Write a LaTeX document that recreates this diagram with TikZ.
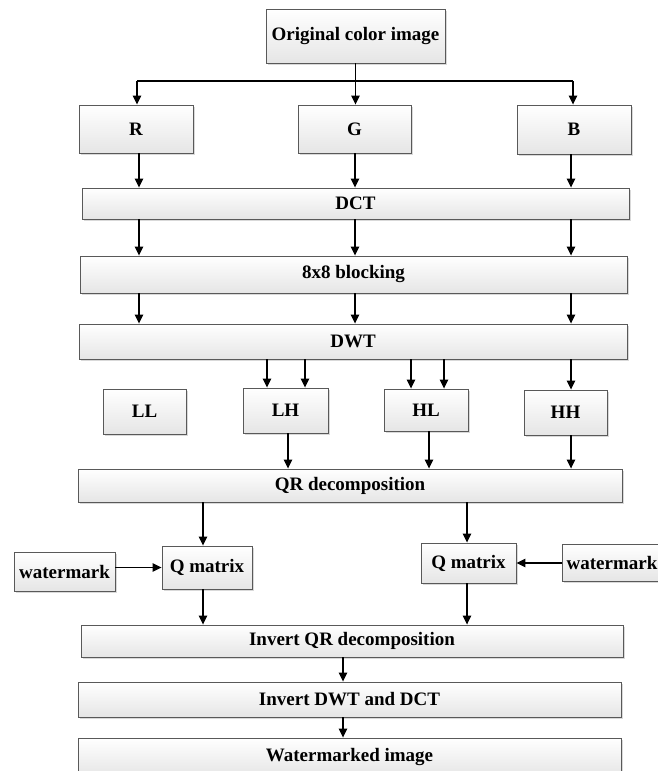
\documentclass[tikz,border=0pt]{standalone}
\usepackage{fontspec}
\setmainfont{Liberation Serif}
\usetikzlibrary{arrows.meta,shadows}
\begin{document}
\begin{tikzpicture}[x=1pt,y=-1pt,
  box/.style={draw=black!65,line width=0.9pt,top color=white,bottom color=black!10,
    drop shadow={shadow xshift=1.6pt,shadow yshift=-1.6pt,fill=black!25,opacity=0.6},
    inner sep=0pt,font=\fontsize{19}{22}\selectfont\bfseries,text=black},
  arr/.style={line width=1.2pt,-{Triangle[length=9pt,width=8.5pt]}},
  ln/.style={line width=1.2pt}]
\useasboundingbox (0,0) rectangle (658,771);
% nodes
\node[box,minimum width=179,minimum height=54] (orig) at (355.5,36) {Original color image};
\node[box,minimum width=114,minimum height=48] (R) at (136,129) {R};
\node[box,minimum width=113,minimum height=48] (G) at (354.5,129) {G};
\node[box,minimum width=114,minimum height=49] (B) at (574,129.5) {B};
\node[box,minimum width=547,minimum height=31] (DCT) at (355.5,203.5) {DCT};
\node[box,minimum width=547,minimum height=37] (blk) at (353.5,274.5) {8x8 blocking};
\node[box,minimum width=548,minimum height=35] (DWT) at (353,341.5) {DWT};
\node[box,minimum width=83,minimum height=45] (LL) at (144.5,411.5) {LL};
\node[box,minimum width=85,minimum height=45] (LH) at (285.5,410.5) {LH};
\node[box,minimum width=84,minimum height=42] (HL) at (426,410) {HL};
\node[box,minimum width=83,minimum height=45] (HH) at (565.5,412.5) {HH};
\node[box,minimum width=544,minimum height=33] (QR) at (350,485.5) {QR decomposition};
\node[box,minimum width=90,minimum height=43] (QmL) at (207,567.5) {Q matrix};
\node[box,minimum width=101,minimum height=39] (wmL) at (64.5,571.5) {watermark};
\node[box,minimum width=95,minimum height=40] (QmR) at (468.5,563) {Q matrix};
\node[box,minimum width=100,minimum height=37] (wmR) at (612,562.5) {watermark};
\node[box,minimum width=542,minimum height=32] (IQR) at (352,641) {Invert QR decomposition};
\node[box,minimum width=543,minimum height=35] (IDWT) at (349.5,699.5) {Invert DWT and DCT};
\node[box,minimum width=543,minimum height=38] (WI) at (349.5,757) {Watermarked image};
% split line
\coordinate (jl) at (137,81);
\coordinate (jr) at (573,81);
\draw[ln] (jl) -- (jr);
\draw[arr] (orig) -- (orig |- G.north);
\draw[arr] (jl) -- (jl |- R.north);
\draw[arr] (jr) -- (jr |- B.north);
% to DCT
\coordinate (c1) at (139,0);
\coordinate (c2) at (355,0);
\coordinate (c3) at (571,0);
\draw[arr] (c1 |- R.south) -- (c1 |- DCT.north);
\draw[arr] (c2 |- G.south) -- (c2 |- DCT.north);
\draw[arr] (c3 |- B.south) -- (c3 |- DCT.north);
% DCT -> blocking
\draw[arr] (c1 |- DCT.south) -- (c1 |- blk.north);
\draw[arr] (c2 |- DCT.south) -- (c2 |- blk.north);
\draw[arr] (c3 |- DCT.south) -- (c3 |- blk.north);
% blocking -> DWT
\draw[arr] (c1 |- blk.south) -- (c1 |- DWT.north);
\draw[arr] (c2 |- blk.south) -- (c2 |- DWT.north);
\draw[arr] (c3 |- blk.south) -- (c3 |- DWT.north);
% DWT -> subbands
\coordinate (d1) at (267,0);
\coordinate (d2) at (305,0);
\coordinate (d3) at (411,0);
\coordinate (d4) at (444,0);
\draw[arr] (d1 |- DWT.south) -- (d1 |- LH.north);
\draw[arr] (d2 |- DWT.south) -- (d2 |- LH.north);
\draw[arr] (d3 |- DWT.south) -- (d3 |- HL.north);
\draw[arr] (d4 |- DWT.south) -- (d4 |- HL.north);
\draw[arr] (c3 |- DWT.south) -- (c3 |- HH.north);
% subbands -> QR
\coordinate (e1) at (288,0);
\coordinate (e2) at (429,0);
\draw[arr] (e1 |- LH.south) -- (e1 |- QR.north);
\draw[arr] (e2 |- HL.south) -- (e2 |- QR.north);
\draw[arr] (c3 |- HH.south) -- (c3 |- QR.north);
% QR -> Q matrices
\coordinate (f1) at (203,0);
\coordinate (f2) at (467,0);
\draw[arr] (f1 |- QR.south) -- (f1 |- QmL.north);
\draw[arr] (f2 |- QR.south) -- (f2 |- QmR.north);
\draw[arr] (wmL.east |- QmL.west) -- (QmL.west);
\draw[arr] (wmR.west |- QmR.east) -- (QmR.east);
% Q matrices -> IQR
\draw[arr] (f1 |- QmL.south) -- (f1 |- IQR.north);
\draw[arr] (f2 |- QmR.south) -- (f2 |- IQR.north);
% bottom chain
\coordinate (g1) at (343,0);
\draw[arr] (g1 |- IQR.south) -- (g1 |- IDWT.north);
\draw[arr] (g1 |- IDWT.south) -- (g1 |- WI.north);
\end{tikzpicture}
\end{document}
